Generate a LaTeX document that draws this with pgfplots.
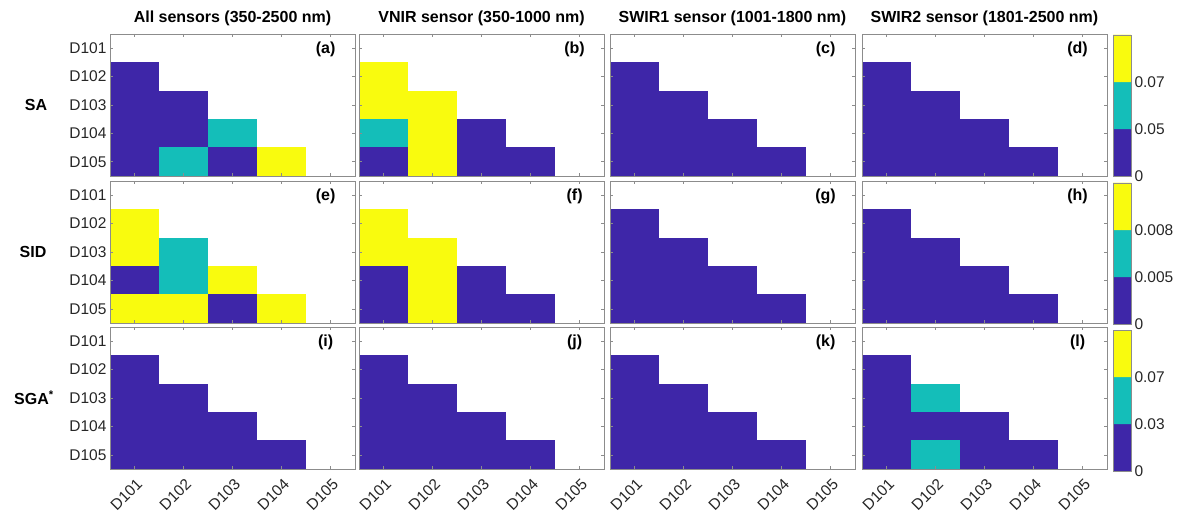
\documentclass[border=0pt]{standalone}
\usepackage{pgfplots}
\pgfplotsset{compat=1.18}
\usepackage{pgfplotstable}
\usepackage{fontspec}
\setmainfont{Liberation Sans}

\definecolor{axgray}{RGB}{140,140,140}
\definecolor{lblgray}{RGB}{38,38,38}

% Pairwise class matrices: x = reference sample, y = compared sample,
% c = class (0 = not computed, 1 = lowest bin, 2 = middle bin, 3 = highest bin)
% Row 1: SA
\pgfplotstableread[row sep=\\]{
x y c\\
1 1 0\\ 2 1 0\\ 3 1 0\\ 4 1 0\\ 5 1 0\\
1 2 1\\ 2 2 0\\ 3 2 0\\ 4 2 0\\ 5 2 0\\
1 3 1\\ 2 3 1\\ 3 3 0\\ 4 3 0\\ 5 3 0\\
1 4 1\\ 2 4 1\\ 3 4 2\\ 4 4 0\\ 5 4 0\\
1 5 1\\ 2 5 2\\ 3 5 1\\ 4 5 3\\ 5 5 0\\
}\tabA
\pgfplotstableread[row sep=\\]{
x y c\\
1 1 0\\ 2 1 0\\ 3 1 0\\ 4 1 0\\ 5 1 0\\
1 2 3\\ 2 2 0\\ 3 2 0\\ 4 2 0\\ 5 2 0\\
1 3 3\\ 2 3 3\\ 3 3 0\\ 4 3 0\\ 5 3 0\\
1 4 2\\ 2 4 3\\ 3 4 1\\ 4 4 0\\ 5 4 0\\
1 5 1\\ 2 5 3\\ 3 5 1\\ 4 5 1\\ 5 5 0\\
}\tabB
\pgfplotstableread[row sep=\\]{
x y c\\
1 1 0\\ 2 1 0\\ 3 1 0\\ 4 1 0\\ 5 1 0\\
1 2 1\\ 2 2 0\\ 3 2 0\\ 4 2 0\\ 5 2 0\\
1 3 1\\ 2 3 1\\ 3 3 0\\ 4 3 0\\ 5 3 0\\
1 4 1\\ 2 4 1\\ 3 4 1\\ 4 4 0\\ 5 4 0\\
1 5 1\\ 2 5 1\\ 3 5 1\\ 4 5 1\\ 5 5 0\\
}\tabC
\pgfplotstableread[row sep=\\]{
x y c\\
1 1 0\\ 2 1 0\\ 3 1 0\\ 4 1 0\\ 5 1 0\\
1 2 1\\ 2 2 0\\ 3 2 0\\ 4 2 0\\ 5 2 0\\
1 3 1\\ 2 3 1\\ 3 3 0\\ 4 3 0\\ 5 3 0\\
1 4 1\\ 2 4 1\\ 3 4 1\\ 4 4 0\\ 5 4 0\\
1 5 1\\ 2 5 1\\ 3 5 1\\ 4 5 1\\ 5 5 0\\
}\tabD
% Row 2: SID
\pgfplotstableread[row sep=\\]{
x y c\\
1 1 0\\ 2 1 0\\ 3 1 0\\ 4 1 0\\ 5 1 0\\
1 2 3\\ 2 2 0\\ 3 2 0\\ 4 2 0\\ 5 2 0\\
1 3 3\\ 2 3 2\\ 3 3 0\\ 4 3 0\\ 5 3 0\\
1 4 1\\ 2 4 2\\ 3 4 3\\ 4 4 0\\ 5 4 0\\
1 5 3\\ 2 5 3\\ 3 5 1\\ 4 5 3\\ 5 5 0\\
}\tabE
\pgfplotstableread[row sep=\\]{
x y c\\
1 1 0\\ 2 1 0\\ 3 1 0\\ 4 1 0\\ 5 1 0\\
1 2 3\\ 2 2 0\\ 3 2 0\\ 4 2 0\\ 5 2 0\\
1 3 3\\ 2 3 3\\ 3 3 0\\ 4 3 0\\ 5 3 0\\
1 4 1\\ 2 4 3\\ 3 4 1\\ 4 4 0\\ 5 4 0\\
1 5 1\\ 2 5 3\\ 3 5 1\\ 4 5 1\\ 5 5 0\\
}\tabF
\pgfplotstableread[row sep=\\]{
x y c\\
1 1 0\\ 2 1 0\\ 3 1 0\\ 4 1 0\\ 5 1 0\\
1 2 1\\ 2 2 0\\ 3 2 0\\ 4 2 0\\ 5 2 0\\
1 3 1\\ 2 3 1\\ 3 3 0\\ 4 3 0\\ 5 3 0\\
1 4 1\\ 2 4 1\\ 3 4 1\\ 4 4 0\\ 5 4 0\\
1 5 1\\ 2 5 1\\ 3 5 1\\ 4 5 1\\ 5 5 0\\
}\tabG
\pgfplotstableread[row sep=\\]{
x y c\\
1 1 0\\ 2 1 0\\ 3 1 0\\ 4 1 0\\ 5 1 0\\
1 2 1\\ 2 2 0\\ 3 2 0\\ 4 2 0\\ 5 2 0\\
1 3 1\\ 2 3 1\\ 3 3 0\\ 4 3 0\\ 5 3 0\\
1 4 1\\ 2 4 1\\ 3 4 1\\ 4 4 0\\ 5 4 0\\
1 5 1\\ 2 5 1\\ 3 5 1\\ 4 5 1\\ 5 5 0\\
}\tabH
% Row 3: SGA
\pgfplotstableread[row sep=\\]{
x y c\\
1 1 0\\ 2 1 0\\ 3 1 0\\ 4 1 0\\ 5 1 0\\
1 2 1\\ 2 2 0\\ 3 2 0\\ 4 2 0\\ 5 2 0\\
1 3 1\\ 2 3 1\\ 3 3 0\\ 4 3 0\\ 5 3 0\\
1 4 1\\ 2 4 1\\ 3 4 1\\ 4 4 0\\ 5 4 0\\
1 5 1\\ 2 5 1\\ 3 5 1\\ 4 5 1\\ 5 5 0\\
}\tabI
\pgfplotstableread[row sep=\\]{
x y c\\
1 1 0\\ 2 1 0\\ 3 1 0\\ 4 1 0\\ 5 1 0\\
1 2 1\\ 2 2 0\\ 3 2 0\\ 4 2 0\\ 5 2 0\\
1 3 1\\ 2 3 1\\ 3 3 0\\ 4 3 0\\ 5 3 0\\
1 4 1\\ 2 4 1\\ 3 4 1\\ 4 4 0\\ 5 4 0\\
1 5 1\\ 2 5 1\\ 3 5 1\\ 4 5 1\\ 5 5 0\\
}\tabJ
\pgfplotstableread[row sep=\\]{
x y c\\
1 1 0\\ 2 1 0\\ 3 1 0\\ 4 1 0\\ 5 1 0\\
1 2 1\\ 2 2 0\\ 3 2 0\\ 4 2 0\\ 5 2 0\\
1 3 1\\ 2 3 1\\ 3 3 0\\ 4 3 0\\ 5 3 0\\
1 4 1\\ 2 4 1\\ 3 4 1\\ 4 4 0\\ 5 4 0\\
1 5 1\\ 2 5 1\\ 3 5 1\\ 4 5 1\\ 5 5 0\\
}\tabK
\pgfplotstableread[row sep=\\]{
x y c\\
1 1 0\\ 2 1 0\\ 3 1 0\\ 4 1 0\\ 5 1 0\\
1 2 1\\ 2 2 0\\ 3 2 0\\ 4 2 0\\ 5 2 0\\
1 3 1\\ 2 3 2\\ 3 3 0\\ 4 3 0\\ 5 3 0\\
1 4 1\\ 2 4 1\\ 3 4 1\\ 4 4 0\\ 5 4 0\\
1 5 1\\ 2 5 2\\ 3 5 1\\ 4 5 1\\ 5 5 0\\
}\tabL
% Colour scale bars: three bins
\pgfplotstableread[row sep=\\]{
x y c\\
1 1 1\\ 2 1 1\\
1 2 2\\ 2 2 2\\
1 3 3\\ 2 3 3\\
}\tabCB

\tikzset{
  panel letter/.style={font=\bfseries\fontsize{16}{19}\selectfont},
  row label/.style={font=\bfseries\fontsize{16}{19}\selectfont},
}

\pgfplotsset{
  bins/.style={
    colormap={bins}{rgb255=(255,255,255) rgb255=(62,38,168) rgb255=(20,190,185) rgb255=(249,251,14)},
    colormap access=direct,
  },
  hm/.style={
    bins,
    scale only axis, width=245pt, height=142pt,
    anchor=north west,
    xmin=0.5, xmax=5.5, ymin=0.5, ymax=5.5, y dir=reverse,
    xtick={1,2,3,4,5}, ytick={1,2,3,4,5},
    xticklabels={}, yticklabels={},
    tick align=inside, major tick length=3pt,
    axis line style={axgray, line width=0.8pt},
    tick style={axgray, line width=0.6pt},
    tick label style={font=\fontsize{15.5}{18}\selectfont, text=lblgray},
    title style={at={(0.5,1)}, anchor=base, yshift=5pt,
                 font=\bfseries\fontsize{16}{19}\selectfont},
    axis on top,
  },
  ylab/.style={yticklabels={D101,D102,D103,D104,D105}},
  xlab/.style={xticklabels={D101,D102,D103,D104,D105},
               xticklabel style={xshift=1pt, yshift=-4pt, rotate=45, anchor=north east}},
  cb/.style={
    bins,
    scale only axis, width=18pt, height=141pt,
    anchor=north west,
    xmin=0.5, xmax=2.5, ymin=0.5, ymax=3.5,
    xtick=\empty, ytick={0.5,1.5,2.5},
    yticklabel pos=right, major tick length=0pt,
    axis line style={axgray, line width=0.8pt},
    tick label style={font=\fontsize{15.5}{18}\selectfont, text=lblgray},
    axis on top,
  },
}

% #1 left, #2 top, #3 table, #4 letter, #5 extra axis options
\newcommand{\hmpanel}[5]{%
  \begin{axis}[hm, at={(#1pt,-#2pt)}, #5]
    \addplot[matrix plot*, mesh/cols=5, point meta=explicit] table[x=x, y=y, meta=c] {#3};
    \node[panel letter] at (axis description cs:0.88,0.89) {(#4)};
  \end{axis}}

% #1 top, #2 middle label, #3 upper label
\newcommand{\cbar}[3]{%
  \begin{axis}[cb, at={(1113pt,-#1pt)}, yticklabels={0,#2,#3}]
    \addplot[matrix plot*, mesh/cols=2, point meta=explicit] table[x=x, y=y, meta=c] {\tabCB};
  \end{axis}}

\begin{document}
\begin{tikzpicture}
\useasboundingbox (0,0) rectangle (1181pt,-513pt);
% SA
\hmpanel{110}{34}{\tabA}{a}{ylab, title={All sensors (350-2500 nm)}}
\node[row label] at (36pt,-105pt) {SA};
\hmpanel{359}{34}{\tabB}{b}{title={VNIR sensor (350-1000 nm)}}
\hmpanel{610}{34}{\tabC}{c}{title={SWIR1 sensor (1001-1800 nm)}}
\hmpanel{862}{34}{\tabD}{d}{title={SWIR2 sensor (1801-2500 nm)}}
\cbar{35}{0.05}{0.07}
% SID
\hmpanel{110}{181}{\tabE}{e}{ylab}
\node[row label] at (33pt,-252pt) {SID};
\hmpanel{359}{181}{\tabF}{f}{}
\hmpanel{610}{181}{\tabG}{g}{}
\hmpanel{862}{181}{\tabH}{h}{}
\cbar{183}{0.005}{0.008}
% SGA
\hmpanel{110}{327}{\tabI}{i}{ylab, xlab}
\node[row label] at (34pt,-398pt) {SGA\textsuperscript{*}};
\hmpanel{359}{327}{\tabJ}{j}{xlab}
\hmpanel{610}{327}{\tabK}{k}{xlab}
\hmpanel{862}{327}{\tabL}{l}{xlab}
\cbar{330}{0.03}{0.07}
\end{tikzpicture}
\end{document}
